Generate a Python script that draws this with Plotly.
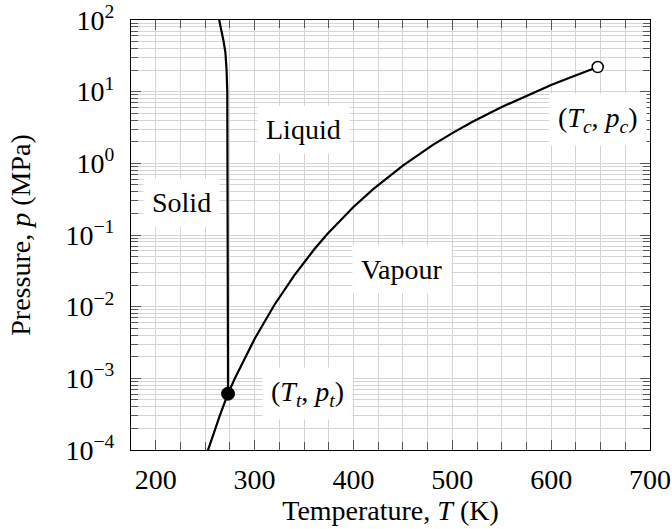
import math
import plotly.graph_objects as go

# Melting curve (solid-liquid)
melt_T = [273.16, 273.15, 273.0, 272.4, 271.7, 270.5, 268.7, 266.5, 264.2]
melt_p = [6.117e-4, 0.1013, 2.2, 10, 20, 35, 50, 75, 100]

# Sublimation + vaporisation curve
vap_T = [250, 255, 260, 265, 270, 273.16, 280, 290, 300, 320, 340, 360, 373.12,
         400, 420, 450, 480, 500, 520, 550, 580, 600, 620, 640, 647.1]
vap_p = [7.6e-5, 1.23e-4, 1.96e-4, 3.06e-4, 4.70e-4, 6.117e-4, 9.92e-4, 1.920e-3,
         3.537e-3, 1.055e-2, 2.719e-2, 6.219e-2, 0.1013, 0.2458, 0.4373, 0.9322,
         1.792, 2.639, 3.769, 6.117, 9.448, 12.35, 15.90, 20.27, 22.06]

triple_T, triple_p = 273.16, 6.117e-4
critical_T, critical_p = 647.1, 22.06

x_ticks = [200, 300, 400, 500, 600, 700]
y_ticks = [1e-4, 1e-3, 1e-2, 1e-1, 1e0, 1e1, 1e2]
y_ticktext = ["10<sup>−4</sup>", "10<sup>−3</sup>", "10<sup>−2</sup>", "10<sup>−1</sup>",
              "10<sup>0</sup>", "10<sup>1</sup>", "10<sup>2</sup>"]

region_labels = ["Liquid", "Solid", "Vapour"]
region_T = [349, 225.6, 449.6]
region_p = [3.0, 0.28, 0.0325]

FONT = "Liberation Serif"
FS = 28

fig = go.Figure()
fig.add_trace(go.Scatter(x=melt_T, y=melt_p, mode="lines",
                         line=dict(color="black", width=2.2), showlegend=False))
fig.add_trace(go.Scatter(x=vap_T, y=vap_p, mode="lines",
                         line=dict(color="black", width=2.2), showlegend=False))
fig.add_trace(go.Scatter(x=[triple_T], y=[triple_p], mode="markers",
                         marker=dict(color="black", size=13, line=dict(color="black", width=1)),
                         showlegend=False))
fig.add_trace(go.Scatter(x=[critical_T], y=[critical_p], mode="markers",
                         marker=dict(color="white", size=11, line=dict(color="black", width=1.5)),
                         showlegend=False))

for txt, t, p in zip(region_labels, region_T, region_p):
    fig.add_annotation(x=t, y=math.log10(p), text=txt, showarrow=False,
                       bgcolor="white", borderpad=8,
                       font=dict(family=FONT, size=FS, color="black"))

fig.add_annotation(x=353.5, y=math.log10(triple_p),
                   text="(<i>T</i><sub><i>t</i></sub>, <i>p</i><sub><i>t</i></sub>)",
                   showarrow=False, bgcolor="white", borderpad=8,
                   font=dict(family=FONT, size=FS, color="black"))
fig.add_annotation(x=critical_T, y=0.605,
                   text="(<i>T</i><sub><i>c</i></sub>, <i>p</i><sub><i>c</i></sub>)",
                   showarrow=False, bgcolor="white", borderpad=8,
                   font=dict(family=FONT, size=FS, color="black"))

grid_col = "#d4d4d4"
tick_col = "#555555"

fig.update_xaxes(range=[175, 700], tickvals=x_ticks,
                 showline=True, linecolor="black", linewidth=1.2, mirror="ticks",
                 showgrid=True, gridcolor=grid_col, gridwidth=1,
                 ticks="inside", ticklen=10, tickcolor=tick_col, tickwidth=1,
                 minor=dict(dtick=25, showgrid=True, gridcolor=grid_col, gridwidth=1,
                            ticks="inside", ticklen=8, tickcolor=tick_col),
                 tickfont=dict(family=FONT, size=FS, color="black"),
                 ticklabelstandoff=4,
                 zeroline=False,
                 title=dict(text="Temperature, <i>T</i> (K)",
                            font=dict(family=FONT, size=FS, color="black"), standoff=1))
fig.update_yaxes(type="log", range=[-4, 2], tickvals=y_ticks, ticktext=y_ticktext,
                 showline=True, linecolor="black", linewidth=1.2, mirror="ticks",
                 showgrid=True, gridcolor=grid_col, gridwidth=1,
                 ticks="inside", ticklen=10, tickcolor=tick_col, tickwidth=1,
                 minor=dict(dtick="D1", showgrid=True, gridcolor=grid_col, gridwidth=1,
                            ticks="inside", ticklen=7, tickcolor=tick_col),
                 tickfont=dict(family=FONT, size=FS, color="black"),
                 ticklabelstandoff=10,
                 zeroline=False,
                 title=dict(text="Pressure, <i>p</i> (MPa)",
                            font=dict(family=FONT, size=FS, color="black"), standoff=26))

fig.update_layout(width=672, height=529, margin=dict(l=131, r=22, t=20, b=79, autoexpand=False),
                  plot_bgcolor="white", paper_bgcolor="white",
                  font=dict(family=FONT, size=FS, color="black"))

fig.write_html("out.html")
